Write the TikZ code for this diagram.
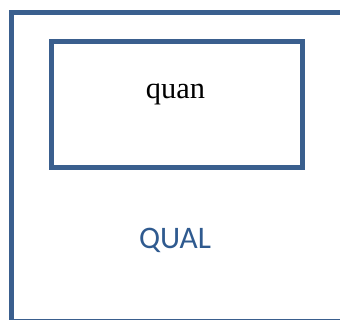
\documentclass[tikz,border=0pt]{standalone}
\usepackage{fontspec}
\setmainfont{Liberation Serif}
\newfontfamily\labelfont{Carlito}
\definecolor{frame}{HTML}{3A5F8E}
\definecolor{qualtext}{HTML}{2F5A8F}
\begin{document}
\begin{tikzpicture}[x=0.75pt,y=-0.75pt,
  boxline/.style={draw=frame,line width=4pt}]
\useasboundingbox (0,0) rectangle (340,320);
\clip (0,0) rectangle (340,320);
% outer container, running past the right and bottom edges
\draw[boxline] (11.5,12.5) rectangle (350,322);
% inner box
\node[boxline,minimum width=251.5*0.75pt,minimum height=126*0.75pt,inner sep=0pt] (quanbox) at (177,104.5) {};
\node[font=\fontsize{22.8}{26}\selectfont,anchor=base] (quan) at (175.5,99) {quan};
\node[font=\labelfont\fontsize{23.5}{28}\selectfont,text=qualtext,anchor=base] (qual) at (175,249) {QUAL};
\end{tikzpicture}
\end{document}
